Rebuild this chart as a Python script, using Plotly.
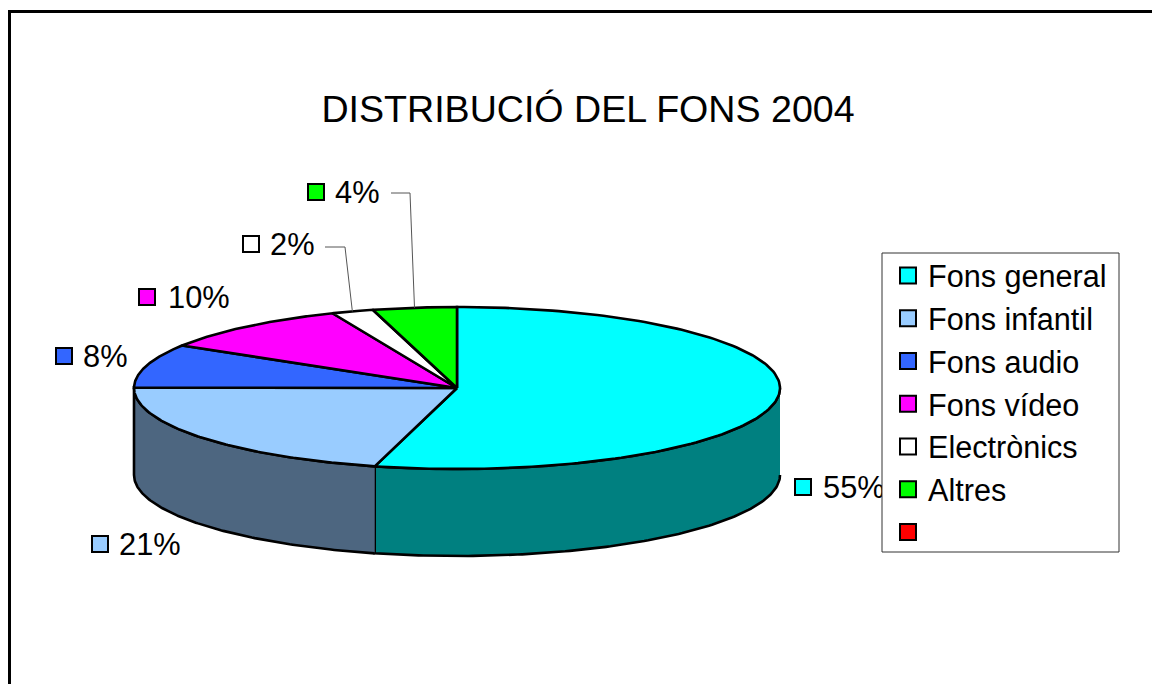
import numpy as np
import plotly.graph_objects as go

TITLE = "DISTRIBUCIÓ DEL FONS 2004"
categories = ["Fons general", "Fons infantil", "Fons audio", "Fons vídeo", "Electrònics", "Altres"]
shares = [54.1, 21.0, 8.7, 9.9, 2.1, 4.2]
labels = ["55%", "21%", "8%", "10%", "2%", "4%"]
colors = ["#00FFFF", "#99CCFF", "#3366FF", "#FF00FF", "#FFFFFF", "#00FF00"]
side_colors = ["#008080", "#4D6680", "#1A3380", "#800080", "#808080", "#008000"]
empty_category = " "
empty_color = "#FF0000"

W, H = 1160, 684
PAGE = 8  # default page margin round the figure
CX, CY, RX, RY, DEPTH = 457, 388, 323, 81, 87
FONT = "Liberation Sans"

label_squares = [(803, 487), (100, 544), (64, 356), (147, 297), (251, 244), (316, 192)]
label_text_x = [823, 119, 83, 168, 270, 335]
LABEL_TEXT_DY = 3
leaders = {4: [(325, 247), (345, 247)], 5: [(391, 193), (410, 193)]}


def ex(t):
    return CX + RX * np.sin(t)


def ey(t):
    return CY - RY * np.cos(t)


edges = np.concatenate([[0], np.cumsum(shares)]) / 100 * 2 * np.pi
fig = go.Figure()

# side walls
for i in range(len(shares)):
    a, b = max(edges[i], np.pi / 2), min(edges[i + 1], 3 * np.pi / 2)
    if b <= a:
        continue
    t = np.linspace(a, b, 120)
    xs = np.concatenate([ex(t), ex(t[::-1])])
    ys = np.concatenate([ey(t), ey(t[::-1]) + DEPTH])
    fig.add_trace(go.Scatter(x=xs, y=ys, mode="lines", fill="toself", fillcolor=side_colors[i],
                             line=dict(color="black", width=2.6), showlegend=False, hoverinfo="skip"))

# top slices
for i in range(len(shares)):
    t = np.linspace(edges[i], edges[i + 1], 160)
    xs = np.concatenate([[CX], ex(t), [CX]])
    ys = np.concatenate([[CY], ey(t), [CY]])
    fig.add_trace(go.Scatter(x=xs, y=ys, mode="lines", fill="toself", fillcolor=colors[i],
                             line=dict(color="black", width=2.6), showlegend=False,
                             name=categories[i], hoverinfo="skip"))

# leader lines
for i, pts in leaders.items():
    mid = (edges[i] + edges[i + 1]) / 2
    fig.add_trace(go.Scatter(x=[p[0] for p in pts] + [ex(mid)], y=[p[1] for p in pts] + [ey(mid)],
                             mode="lines", line=dict(color="#555555", width=1),
                             showlegend=False, hoverinfo="skip"))

# data labels
for i, lab in enumerate(labels):
    sx, sy = label_squares[i]
    fig.add_trace(go.Scatter(x=[sx], y=[sy], mode="markers",
                             marker=dict(symbol="square", size=16, color=colors[i],
                                         line=dict(color="black", width=2)),
                             showlegend=False, hoverinfo="skip"))
    fig.add_trace(go.Scatter(x=[label_text_x[i]], y=[sy + LABEL_TEXT_DY], mode="text", text=[lab],
                             textposition="middle right",
                             textfont=dict(family=FONT, size=30.8, color="black"),
                             showlegend=False, hoverinfo="skip"))

# legend entries
for name, c in zip(categories + [empty_category], colors + [empty_color]):
    fig.add_trace(go.Scatter(x=[None], y=[None], mode="markers", name=name, legendgroup=name,
                             marker=dict(symbol="square", size=16, color=c,
                                         line=dict(color="black", width=2))))

fw, fh = W - PAGE, H - PAGE
fig.update_layout(
    width=fw, height=fh, margin=dict(l=0, r=0, t=0, b=0),
    paper_bgcolor="white", plot_bgcolor="white", showlegend=True,
    title=dict(text=TITLE, x=(588 - PAGE) / fw, xanchor="center", y=1 - (109 - PAGE) / fh, yanchor="middle",
               font=dict(family=FONT, size=37.6, color="black")),
    xaxis=dict(range=[PAGE, W], visible=False, fixedrange=True),
    yaxis=dict(range=[H, PAGE], visible=False, fixedrange=True),
    legend=dict(x=(888 - PAGE) / fw, xanchor="left", y=1 - (249 - PAGE) / fh, yanchor="top",
                bgcolor="rgba(0,0,0,0)", borderwidth=0,
                font=dict(family=FONT, size=30.6, color="black"), tracegroupgap=0,
                itemclick=False, itemdoubleclick=False),
    shapes=[
        dict(type="rect", xref="x", yref="y", x0=9.5, y0=11.5, x1=W + 20, y1=H + 20,
             line=dict(color="black", width=3), fillcolor="rgba(0,0,0,0)", layer="below"),
        dict(type="rect", xref="x", yref="y", x0=882, y0=253, x1=1119, y1=552,
             line=dict(color="#333333", width=1), fillcolor="white", layer="above"),
    ],
)
fig.write_html("out.html", config=dict(displayModeBar=False))
